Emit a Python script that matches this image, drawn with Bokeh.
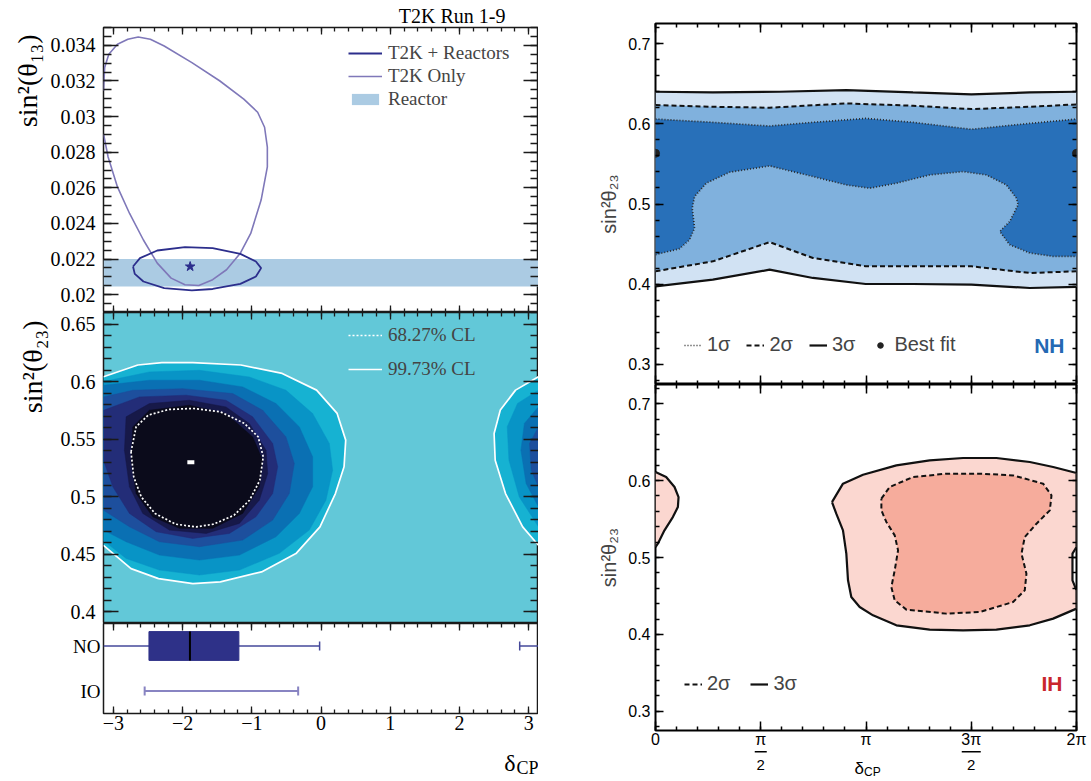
import numpy as np
from bokeh.plotting import figure
from bokeh.models import Range1d, FixedTicker, LinearAxis, Legend, LegendItem, Title
from bokeh.layouts import row, column
from bokeh.embed import file_html
from bokeh.resources import INLINE
from bokeh.core.properties import value

PI = np.pi
SERIF = "Liberation Serif"
SANS = "Liberation Sans"

# ------------------------------------------------------------------ data
# --- left top: sin^2(theta13) vs delta_CP
t2k_only_x = [-3.1416, -3.075, -2.94, -2.765, -2.565, -2.365, -2.165, -1.965, -1.765, -1.565, -1.365,
              -1.165, -1.015, -0.865, -0.775, -0.775, -0.815, -0.915, -1.115, -1.465, -1.865, -2.265,
              -2.465, -2.64, -2.79, -2.94, -3.065, -3.125, -3.1416]
t2k_only_y = [0.02903, 0.02773, 0.02605, 0.02456, 0.02307, 0.02177, 0.02093, 0.02056, 0.02052, 0.02084,
              0.02140, 0.02233, 0.02344, 0.02531, 0.02717, 0.02828, 0.02940, 0.03024, 0.03098, 0.03201,
              0.03303, 0.03396, 0.03434, 0.03447, 0.03434, 0.03406, 0.03350, 0.03275, 0.03145]
t2k_reac_x = [-2.715, -2.615, -2.365, -1.965, -1.565, -1.165, -0.94, -0.865, -0.94, -1.165, -1.565,
              -1.865, -2.265, -2.565, -2.69, -2.715]
t2k_reac_y = [0.02158, 0.02205, 0.02248, 0.02267, 0.02261, 0.02229, 0.02186, 0.02149, 0.02102, 0.02061,
              0.02032, 0.02024, 0.02037, 0.02074, 0.02117, 0.02158]
best13_x = [-1.89]
best13_y = [0.02158]
reactor_lo = [0.02046]
reactor_hi = [0.0220]

# --- left middle: sin^2(theta23) vs delta_CP (posterior shading levels, outer -> inner)
heat_bg = "#62c8d8"
lobeL_x = [-3.1416, -2.645, -2.298, -1.851, -1.156, -0.561, -0.064, 0.233, 0.357, 0.333, 0.208, -0.015,
           -0.362, -0.859, -1.454, -1.851, -2.347, -2.744, -3.1416]
lobeL_y = [0.6042, 0.6144, 0.6164, 0.6164, 0.6144, 0.6071, 0.5926, 0.5724, 0.5492, 0.5260, 0.5028, 0.4739,
           0.4507, 0.4348, 0.4261, 0.4246, 0.4290, 0.4376, 0.4579]
lvlB_x = [-3.1416, -2.478, -1.756, -1.035, -0.506, -0.121, 0.120, 0.168, 0.071, -0.169, -0.602, -1.179,
          -1.756, -2.334, -2.815, -3.1416]
lvlB_y = [0.6000, 0.6084, 0.6098, 0.6040, 0.5925, 0.5723, 0.5463, 0.5231, 0.4971, 0.4711, 0.4509, 0.4364,
          0.4321, 0.4364, 0.4465, 0.4620]
lvlC_x = [-3.1416, -2.478, -1.756, -1.131, -0.650, -0.313, -0.121, -0.121, -0.313, -0.650, -1.179, -1.756,
          -2.334, -2.815, -3.1416]
lvlC_y = [0.5968, 0.6012, 0.6012, 0.5954, 0.5809, 0.5607, 0.5347, 0.5087, 0.4856, 0.4653, 0.4494, 0.4451,
          0.4494, 0.4610, 0.4711]
lvlD_x = [-3.1416, -2.718, -1.997, -1.275, -0.843, -0.506, -0.386, -0.458, -0.698, -1.131, -1.756, -2.334,
          -2.767, -3.1416]
lvlD_y = [0.5867, 0.5925, 0.5939, 0.5896, 0.5751, 0.5520, 0.5289, 0.5029, 0.4798, 0.4624, 0.4567, 0.4610,
          0.4740, 0.4884]
lvlE_x = [-3.1416, -2.622, -1.949, -1.372, -0.987, -0.698, -0.626, -0.698, -0.939, -1.323, -1.853, -2.382,
          -2.767, -3.007, -3.1416]
lvlE_y = [0.5751, 0.5867, 0.5882, 0.5838, 0.5694, 0.5462, 0.5260, 0.5029, 0.4827, 0.4682, 0.4639, 0.4697,
          0.4856, 0.5087, 0.5318]
lvlF_x = [-2.815, -2.478, -1.901, -1.372, -1.035, -0.794, -0.770, -0.891, -1.179, -1.660, -2.189, -2.574,
          -2.767, -2.839]
lvlF_y = [0.5694, 0.5809, 0.5838, 0.5780, 0.5636, 0.5405, 0.5202, 0.4971, 0.4769, 0.4682, 0.4711, 0.4856,
          0.5087, 0.5405]
core_x = [-2.718, -2.478, -1.901, -1.372, -0.987, -0.843, -0.891, -1.131, -1.564, -2.045, -2.430, -2.670,
          -2.742]
core_y = [0.5607, 0.5751, 0.5795, 0.5723, 0.5520, 0.5318, 0.5087, 0.4856, 0.4726, 0.4726, 0.4827, 0.5029,
          0.5318]
lobeR_x = [3.1416, 2.81, 2.59, 2.50, 2.516, 2.665, 2.913, 3.1416]
lobeR_y = [0.6042, 0.5926, 0.5753, 0.5550, 0.5318, 0.5028, 0.4739, 0.4579]
lvlRB_x = [3.1416, 2.839, 2.690, 2.715, 2.864, 3.1416]
lvlRB_y = [0.5926, 0.5811, 0.5608, 0.5318, 0.4999, 0.4739]
lvlRC_x = [3.1416, 2.938, 2.888, 2.963, 3.1416]
lvlRC_y = [0.5782, 0.5637, 0.5405, 0.5115, 0.4912]
lvlRD_x = [3.1416, 3.012, 3.037, 3.1416]
lvlRD_y = [0.5608, 0.5463, 0.5231, 0.5086]
c68_x = [-2.744, -2.67, -2.496, -2.199, -1.851, -1.454, -1.107, -0.908, -0.834, -0.883, -1.032, -1.256,
         -1.553, -1.801, -2.099, -2.397, -2.596, -2.705, -2.744]
c68_y = [0.539, 0.5608, 0.5709, 0.5758, 0.5767, 0.5738, 0.5637, 0.5521, 0.5347, 0.5144, 0.4970, 0.4840,
         0.4762, 0.4739, 0.4762, 0.4855, 0.4999, 0.5173, 0.539]
best23_x = [-1.88]
best23_y = [0.530]
heat_levels = [
    (lobeL_x, lobeL_y, "#16b2d2"), (lvlB_x, lvlB_y, "#0894c6"), (lvlC_x, lvlC_y, "#0a70b3"),
    (lvlD_x, lvlD_y, "#1d4f9d"), (lvlE_x, lvlE_y, "#232d78"), (lvlF_x, lvlF_y, "#171949"),
    (core_x, core_y, "#0b0b1b"),
    (lobeR_x, lobeR_y, "#16b2d2"), (lvlRB_x, lvlRB_y, "#0894c6"), (lvlRC_x, lvlRC_y, "#0a70b3"),
    (lvlRD_x, lvlRD_y, "#1d4f9d"),
]

# --- left bottom: delta_CP intervals
interval_labels = ["IO", "NO"]          # bottom -> top
NO_box = [-2.485, -1.186]
NO_median = [-1.893]
NO_range_lo = [-3.1416, 2.87]
NO_range_hi = [-0.02, 3.1416]
NO_caps = [-0.02, 2.87]
IO_range_lo = [-2.547]
IO_range_hi = [-0.33]
IO_caps = [-2.547, -0.33]

# --- right top: NH
nh_3s_up_x = [0, 0.856, 1.852, 2.848, 3.843, 4.715, 5.586, 6.2832]
nh_3s_up_y = [0.6399, 0.6391, 0.6399, 0.6420, 0.6391, 0.6366, 0.6391, 0.6399]
nh_3s_lo_x = [0, 0.856, 1.703, 2.350, 3.137, 3.843, 4.715, 5.586, 6.2832]
nh_3s_lo_y = [0.3974, 0.4057, 0.4181, 0.4078, 0.4003, 0.4003, 0.3995, 0.3953, 0.3966]
nh_2s_up_x = [0, 0.856, 1.703, 2.848, 3.843, 4.715, 5.586, 6.2832]
nh_2s_up_y = [0.6233, 0.6212, 0.6200, 0.6254, 0.6225, 0.6183, 0.6212, 0.6241]
nh_2s_lo_x = [0, 0.856, 1.703, 2.350, 3.137, 3.843, 4.715, 5.586, 6.2832]
nh_2s_lo_y = [0.4161, 0.4285, 0.4525, 0.4327, 0.4223, 0.4223, 0.4223, 0.4140, 0.4161]
nh_1s_up_x = [0, 0.856, 1.703, 2.350, 3.137, 3.843, 4.715, 5.586, 6.2832]
nh_1s_up_y = [0.6059, 0.6018, 0.5972, 0.6018, 0.6067, 0.6018, 0.5931, 0.6005, 0.6059]
nh_1s_lo_x = [0, 0.358, 0.508, 0.583, 0.548, 0.583, 0.757, 1.105, 1.703, 2.350, 2.848, 3.196, 3.595,
              4.092, 4.590, 4.939, 5.237, 5.387, 5.412, 5.287, 5.138, 5.287, 5.586, 5.935, 6.2832]
nh_1s_lo_y = [0.4368, 0.4443, 0.4554, 0.4700, 0.4948, 0.5093, 0.5259, 0.5396, 0.5475, 0.5342, 0.5238,
              0.5197, 0.5259, 0.5363, 0.5404, 0.5363, 0.5238, 0.5073, 0.4990, 0.4782, 0.4658, 0.4492,
              0.4389, 0.4347, 0.4347]
nh_best_x = [0, 6.2832]
nh_best_y = [0.5632, 0.5632]

# --- right bottom: IH
ih_3s_x = [2.634, 2.798, 3.097, 3.595, 4.092, 4.590, 5.088, 5.586, 5.935, 6.2832, 6.2832, 6.223, 6.223,
           6.2832, 6.2832, 5.935, 5.586, 5.088, 4.590, 4.092, 3.595, 3.246, 3.047, 2.922, 2.873, 2.848,
           2.798, 2.698, 2.634]
ih_3s_y = [0.5721, 0.5960, 0.6077, 0.6198, 0.6263, 0.6294, 0.6294, 0.6242, 0.6177, 0.6099, 0.5136, 0.5050,
           0.4703, 0.4573, 0.4335, 0.4205, 0.4118, 0.4062, 0.4053, 0.4062, 0.4118, 0.4248, 0.4356, 0.4486,
           0.4703, 0.5050, 0.5353, 0.5570, 0.5721]
ih_3s_edge_x = [0, 0.159, 0.284, 0.344, 0.334, 0.259, 0.134, 0.035, 0]
ih_3s_edge_y = [0.6112, 0.6047, 0.5917, 0.5786, 0.5656, 0.5526, 0.5353, 0.5180, 0.5136]
ih_2s_x = [3.371, 3.495, 3.843, 4.341, 4.839, 5.337, 5.785, 5.910, 5.885, 5.686, 5.511, 5.462, 5.536, 5.511,
           5.337, 4.839, 4.341, 3.744, 3.570, 3.520, 3.570, 3.620, 3.570, 3.445, 3.371, 3.371]
ih_2s_y = [0.5765, 0.5917, 0.6047, 0.6090, 0.6090, 0.6068, 0.5960, 0.5808, 0.5613, 0.5440, 0.5266, 0.5050,
           0.4790, 0.4573, 0.4421, 0.4291, 0.4270, 0.4322, 0.4443, 0.4616, 0.4833, 0.5093, 0.5288, 0.5462,
           0.5613, 0.5765]

# --- ticks
l_xticks = [-3, -2, -1, 0, 1, 2, 3]
l_xticklabels = ["\u22123", "\u22122", "\u22121", "0", "1", "2", "3"]
t13_ticks = [0.02, 0.022, 0.024, 0.026, 0.028, 0.03, 0.032, 0.034]
t13_labels = ["0.02", "0.022", "0.024", "0.026", "0.028", "0.03", "0.032", "0.034"]
t23_ticks = [0.4, 0.45, 0.5, 0.55, 0.6, 0.65]
t23_labels = ["0.4", "0.45", "0.5", "0.55", "0.6", "0.65"]
r_yticks = [0.3, 0.4, 0.5, 0.6, 0.7]
r_ylabels = ["0.3", "0.4", "0.5", "0.6", "0.7"]
r_xticks = [0, PI / 2, PI, 3 * PI / 2, 2 * PI]
r_xtick_num = ["0", "\u03c0", "\u03c0", "3\u03c0", "2\u03c0"]
r_xtick_den = ["", "2", "", "2", ""]

l_xminor = [round(v, 2) for v in np.arange(-3.2, 3.21, 0.2)]
t13_minor = [round(v, 4) for v in np.arange(0.019, 0.0351, 0.0005)]
t23_minor = [round(v, 3) for v in np.arange(0.39, 0.661, 0.01)]
r_yminor = [round(v, 2) for v in np.arange(0.28, 0.725, 0.02)]
r_xminor = [k * PI / 10 for k in range(21)]

# ------------------------------------------------------------------ helpers
def style_axis(ax, ticks, minor, major_len, minor_len, labels=None, font=SERIF, size="20px",
               standoff=8, color="#1a1a1a", width=1.3):
    ax.ticker = FixedTicker(ticks=list(ticks), minor_ticks=list(minor))
    ax.major_tick_in = int(major_len)
    ax.major_tick_out = 0
    ax.minor_tick_in = int(minor_len)
    ax.minor_tick_out = 0
    ax.major_tick_line_color = color
    ax.minor_tick_line_color = color
    ax.major_tick_line_width = width
    ax.minor_tick_line_width = width
    ax.axis_line_color = None
    ax.axis_label_standoff = 0
    if labels is None:
        ax.major_label_text_font_size = "0px"
        ax.major_label_text_color = None
        ax.major_label_standoff = 0
    else:
        ax.major_label_overrides = {t: l for t, l in zip(ticks, labels)}
        ax.major_label_text_font = font
        ax.major_label_text_font_size = size
        ax.major_label_text_color = "black"
        ax.major_label_standoff = standoff


def mirror(p, side, ticks, minor, major_len, minor_len, color, width):
    ax = LinearAxis()
    style_axis(ax, ticks, minor, major_len, minor_len, None, color=color, width=width)
    p.add_layout(ax, side)
    return ax


def add_title(p, text, side, align, offset, standoff, font, size):
    p.add_layout(Title(text=text, align=align, offset=offset, standoff=standoff, text_font=font,
                       text_font_size=size, text_font_style="normal", text_color="black"), side)


def base_fig(fw, fh, xr, yr, left, right, top, bottom, outline_color, outline_width):
    p = figure(frame_width=fw, frame_height=fh, x_range=Range1d(*xr), y_range=Range1d(*yr),
               min_border_left=left, min_border_right=right, min_border_top=top,
               min_border_bottom=bottom, output_backend="svg", toolbar_location=None)
    p.grid.visible = False
    p.outline_line_color = outline_color
    p.outline_line_width = outline_width
    p.background_fill_color = "white"
    p.border_fill_color = "white"
    return p


def strip_fig(fw, fh, xr, left, right):
    # y measured downward from the strip's top edge
    p = figure(frame_width=fw, frame_height=fh, x_range=Range1d(*xr), y_range=Range1d(fh, 0),
               min_border_left=left, min_border_right=right, min_border_top=0, min_border_bottom=0,
               x_axis_location=None, y_axis_location=None, output_backend="svg", toolbar_location=None)
    p.grid.visible = False
    p.outline_line_color = None
    p.background_fill_color = "white"
    p.border_fill_color = "white"
    return p


def txt(p, x, y, text, font, size, align="left", xo=0):
    p.text(x=x, y=y, text=text, text_font=value(font), text_font_size=size, text_align=align,
           text_baseline="alphabetic", text_color="black", x_offset=xo)


LC = "#1a1a1a"
LW = 1.3
XR_L = (-PI, PI)
L_LEFT, L_FW = 103, 435
R_LEFT, R_FW, R_RIGHT = 117, 421, 12

# ------------------------------------------------------------------ left top
f1 = base_fig(L_FW, 285, XR_L, (0.019, 0.035), L_LEFT, 0, 27, 0, LC, 1.5)
style_axis(f1.xaxis[0], l_xticks, l_xminor, 7, 4, None, color=LC, width=LW)
style_axis(f1.yaxis[0], t13_ticks, t13_minor, 15, 8, t13_labels, size="20px", standoff=8, color=LC, width=LW)
mirror(f1, "right", t13_ticks, t13_minor, 15, 8, LC, LW)
mirror(f1, "above", l_xticks, l_xminor, 7, 4, LC, LW)
r_band = f1.quad(left=[XR_L[0]], right=[XR_L[1]], bottom=reactor_lo, top=reactor_hi,
                 fill_color="#abcbe3", line_color=None)
r_only = f1.line(t2k_only_x, t2k_only_y, line_color="#7f78b9", line_width=1.6)
r_reac = f1.line(t2k_reac_x, t2k_reac_y, line_color="#2c2e8c", line_width=1.8)
f1.scatter(best13_x, best13_y, marker="star", size=10, fill_color="#2c2e8c", line_color="#2c2e8c")
leg1 = Legend(items=[LegendItem(label="T2K + Reactors", renderers=[r_reac]),
                     LegendItem(label="T2K Only", renderers=[r_only]),
                     LegendItem(label="Reactor", renderers=[r_band])],
              location=(245, 202), background_fill_alpha=0, border_line_alpha=0, padding=0, margin=0,
              spacing=1, glyph_width=34, glyph_height=14, label_standoff=6, label_text_font=SERIF,
              label_text_font_size="19px")
f1.add_layout(leg1)
add_title(f1, "T2K Run 1-9", "above", "right", 33, 2, SERIF, "20px")
add_title(f1, "sin\u00b2(\u03b8\u2081\u2083)", "left", "right", 7, 9, SERIF, "28px")

# ------------------------------------------------------------------ left middle
f2 = base_fig(L_FW, 311, XR_L, (0.39, 0.66), L_LEFT, 0, 0, 0, LC, 1.5)
f2.background_fill_color = heat_bg
f2.xaxis.visible = False
style_axis(f2.yaxis[0], t23_ticks, t23_minor, 15, 8, t23_labels, size="20px", standoff=8, color=LC, width=LW)
mirror(f2, "right", t23_ticks, t23_minor, 15, 8, LC, LW)
mirror(f2, "above", l_xticks, l_xminor, 7, 4, LC, LW)
for hx, hy, hc in heat_levels:
    f2.patch(hx, hy, fill_color=hc, line_color=hc, line_width=0.5)
r99 = f2.line(lobeL_x, lobeL_y, line_color="white", line_width=1.7)
f2.line(lobeR_x, lobeR_y, line_color="white", line_width=1.7)
r68 = f2.line(c68_x, c68_y, line_color="white", line_width=1.7, line_dash="2 2")
f2.rect(best23_x, best23_y, width=7, height=4, width_units="screen", height_units="screen",
        fill_color="white", line_color=None)
leg2 = Legend(items=[LegendItem(label="68.27% CL", renderers=[r68]),
                     LegendItem(label="99.73% CL", renderers=[r99])],
              location=(245, 243), background_fill_alpha=0, border_line_alpha=0, padding=0, margin=0,
              spacing=12, glyph_width=34, glyph_height=14, label_standoff=6, label_text_font=SERIF,
              label_text_font_size="19px")
f2.add_layout(leg2)
add_title(f2, "sin\u00b2(\u03b8\u2082\u2083)", "left", "right", 8, 19, SERIF, "28px")

# ------------------------------------------------------------------ left bottom
ypos = {name: i + 0.5 for i, name in enumerate(interval_labels)}
f3 = base_fig(L_FW, 90, XR_L, (0, len(interval_labels)), L_LEFT, 0, 0, 24, LC, 1.5)
style_axis(f3.xaxis[0], l_xticks, l_xminor, 7, 4, l_xticklabels, size="20px", standoff=2, color=LC, width=LW)
style_axis(f3.yaxis[0], [ypos[n] for n in interval_labels], [], 0, 0, interval_labels, size="19px",
           standoff=3, color=LC, width=LW)
mirror(f3, "above", l_xticks, l_xminor, 7, 4, LC, LW)
yn, yi = ypos["NO"], ypos["IO"]
f3.segment(x0=NO_range_lo, y0=[yn] * 2, x1=NO_range_hi, y1=[yn] * 2, line_color="#45489a", line_width=1.3)
f3.scatter(NO_caps, [yn] * 2, marker="dash", angle=PI / 2, size=9, line_color="#45489a", line_width=1.5)
f3.hbar(y=[yn], left=[NO_box[0]], right=[NO_box[1]], height=0.64, fill_color="#2e3188",
        line_color="#2e3188")
f3.segment(x0=NO_median, y0=[yn - 0.32], x1=NO_median, y1=[yn + 0.32], line_color="black", line_width=2)
f3.segment(x0=IO_range_lo, y0=[yi], x1=IO_range_hi, y1=[yi], line_color="#8884c2", line_width=2.2)
f3.scatter(IO_caps, [yi] * 2, marker="dash", angle=PI / 2, size=9, line_color="#8884c2", line_width=2)

# strip below left column: x-axis title
f4 = strip_fig(L_FW, 41, XR_L, L_LEFT, 0)
txt(f4, [XR_L[1]], [25.5], ["\u03b4"], SERIF, "24px", align="right", xo=-23)
txt(f4, [XR_L[1]], [30], ["CP"], SERIF, "18px", align="right", xo=0)

# ------------------------------------------------------------------ right panels
XR_R = (0, 2 * PI)
YR_R = (0.275, 0.725)
RC = "black"
RW = 1.5


def right_axes(p, xlabels=None):
    style_axis(p.yaxis[0], r_yticks, r_yminor, 8, 4, r_ylabels, font=SANS, size="16px", standoff=5,
               color=RC, width=RW)
    p.yaxis[0].axis_label = "sin\u00b2\u03b8\u2082\u2083"
    p.yaxis[0].axis_label_text_font = SANS
    p.yaxis[0].axis_label_text_font_size = "20px"
    p.yaxis[0].axis_label_text_font_style = "normal"
    p.yaxis[0].axis_label_standoff = 5
    style_axis(p.xaxis[0], r_xticks, r_xminor, 9, 4, xlabels, font=SANS, size="16px", standoff=0,
               color=RC, width=RW)
    mirror(p, "right", r_yticks, r_yminor, 8, 4, RC, RW)
    mirror(p, "above", r_xticks, r_xminor, 9, 4, RC, RW)


g1 = base_fig(R_FW, 361, XR_R, YR_R, R_LEFT, R_RIGHT, 23, 0, RC, 2)
right_axes(g1)
g1.patch(nh_3s_up_x + nh_3s_lo_x[::-1], nh_3s_up_y + nh_3s_lo_y[::-1], fill_color="#d1e2f3", line_color=None)
g1.patch(nh_2s_up_x + nh_2s_lo_x[::-1], nh_2s_up_y + nh_2s_lo_y[::-1], fill_color="#80b1dd", line_color=None)
g1.patch(nh_1s_up_x + nh_1s_lo_x[::-1], nh_1s_up_y + nh_1s_lo_y[::-1], fill_color="#2870b9", line_color=None)
s3 = g1.line(nh_3s_up_x, nh_3s_up_y, line_color="#111", line_width=2.2)
g1.line(nh_3s_lo_x, nh_3s_lo_y, line_color="#111", line_width=2.2)
s2 = g1.line(nh_2s_up_x, nh_2s_up_y, line_color="#111", line_width=2, line_dash="5 3")
g1.line(nh_2s_lo_x, nh_2s_lo_y, line_color="#111", line_width=2, line_dash="5 3")
s1 = g1.line(nh_1s_up_x, nh_1s_up_y, line_color="#2a2a2a", line_width=1.7, line_dash="1 2")
g1.line(nh_1s_lo_x, nh_1s_lo_y, line_color="#2a2a2a", line_width=1.7, line_dash="1 2")
sb = g1.scatter(nh_best_x, nh_best_y, marker="circle", size=8, fill_color="#222", line_color="#222")
leg3 = Legend(items=[LegendItem(label="1\u03c3", renderers=[s1]), LegendItem(label="2\u03c3", renderers=[s2]),
                     LegendItem(label="3\u03c3", renderers=[s3]), LegendItem(label="Best fit", renderers=[sb])],
              location=(29, 28), orientation="horizontal", background_fill_alpha=0, border_line_alpha=0,
              padding=0, margin=0, spacing=16, glyph_width=18, glyph_height=14, label_standoff=5,
              label_text_font=SANS, label_text_font_size="20px")
g1.add_layout(leg3)
g1.text(x=[XR_R[1]], y=[YR_R[0]], text=["NH"], x_offset=-12, y_offset=-39, text_font=value(SANS),
        text_font_size="21px", text_font_style="bold", text_color="#2469b3", text_align="right",
        text_baseline="middle")

g2 = base_fig(R_FW, 346, XR_R, YR_R, R_LEFT, R_RIGHT, 0, 20, RC, 2)
right_axes(g2, xlabels=r_xtick_num)
g2.patch(ih_3s_x, ih_3s_y, fill_color="#fbd7d0", line_color=None)
g2.patch(ih_3s_edge_x, ih_3s_edge_y, fill_color="#fbd7d0", line_color=None)
g2.patch(ih_2s_x, ih_2s_y, fill_color="#f6ac9c", line_color=None)
i3 = g2.line(ih_3s_x, ih_3s_y, line_color="#111", line_width=2.2)
g2.line(ih_3s_edge_x, ih_3s_edge_y, line_color="#111", line_width=2.2)
i2 = g2.line(ih_2s_x, ih_2s_y, line_color="#111", line_width=2, line_dash="5 3")
leg4 = Legend(items=[LegendItem(label="2\u03c3", renderers=[i2]), LegendItem(label="3\u03c3", renderers=[i3])],
              location=(29, 35), orientation="horizontal", background_fill_alpha=0, border_line_alpha=0,
              padding=0, margin=0, spacing=20, glyph_width=18, glyph_height=14, label_standoff=5,
              label_text_font=SANS, label_text_font_size="20px")
g2.add_layout(leg4)
g2.text(x=[XR_R[1]], y=[YR_R[0]], text=["IH"], x_offset=-14, y_offset=-47, text_font=value(SANS),
        text_font_size="21px", text_font_style="bold", text_color="#c9262c", text_align="right",
        text_baseline="middle")

# strip below right column: fraction bars, denominators and x-axis title
g3 = strip_fig(R_FW, 26, XR_R, R_LEFT, R_RIGHT)
for v, num, den in zip(r_xticks, r_xtick_num, r_xtick_den):
    if den:
        g3.rect(x=[v], y=[1.2], width=12 if len(num) == 1 else 19, height=1.4, width_units="screen",
                height_units="screen", fill_color="black", line_color=None)
        txt(g3, [v], [14], [den], SANS, "15px", align="center")
txt(g3, [PI], [18], ["\u03b4"], SANS, "17px", align="right", xo=-2)
txt(g3, [PI], [21], ["CP"], SANS, "12px", align="left", xo=-2)

layout = row(column(f1, f2, f3, f4), column(g1, g2, g3))
open("out.html", "w").write(file_html(layout, INLINE))
